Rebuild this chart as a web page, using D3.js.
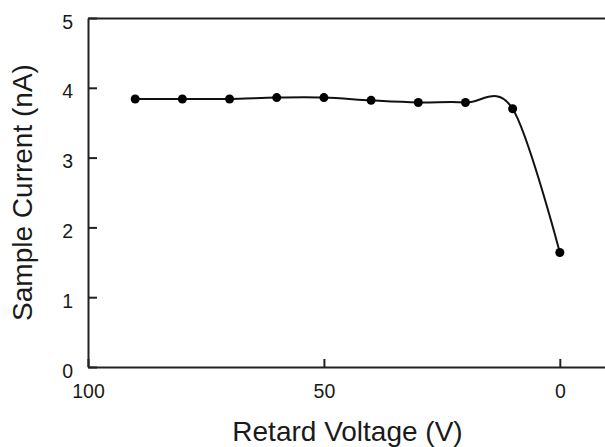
<!DOCTYPE html>
<html>
<head>
<meta charset="utf-8">
<script src="https://cdn.jsdelivr.net/npm/d3@7"></script>
<style>
  body { margin: 0; background: #fff; }
  text { font-family: "Liberation Sans", Arial, sans-serif; fill: #1a1a1a; }
</style>
</head>
<body>
<div id="chart"></div>
<script>
const voltage = [90, 80, 70, 60, 50, 40, 30, 20, 10, 0];
const current = [3.84, 3.84, 3.84, 3.86, 3.86, 3.82, 3.79, 3.79, 3.70, 1.64];
const xTicks = [100, 50, 0];
const yTicks = [0, 1, 2, 3, 4, 5];

const width = 605, height = 447;
const margin = { top: 18, right: -2, bottom: 80, left: 88 };

const x = d3.scaleLinear()
    .domain([100, -10])
    .range([margin.left, width - margin.right]);

const y = d3.scaleLinear()
    .domain([0, 5])
    .range([height - margin.bottom, margin.top]);

const svg = d3.select("#chart")
    .append("svg")
    .attr("width", width)
    .attr("height", height);

// axes (ticks point inwards)
const gx = svg.append("g")
    .attr("transform", "translate(0," + y(0) + ")")
    .call(d3.axisBottom(x).tickValues(xTicks).tickFormat(d3.format("d"))
        .tickSize(-8).tickSizeOuter(0).tickPadding(17));

const gy = svg.append("g")
    .attr("transform", "translate(" + x(100) + ",0)")
    .call(d3.axisLeft(y).tickValues(yTicks).tickFormat(d3.format("d"))
        .tickSize(-9).tickSizeOuter(0).tickPadding(15));

const gt = svg.append("g")
    .attr("transform", "translate(0," + y(5) + ")")
    .call(d3.axisTop(x).tickValues([]).tickSizeOuter(0));

svg.selectAll(".domain, .tick line")
    .attr("stroke", "#222")
    .attr("stroke-width", 2);

svg.selectAll(".tick text")
    .attr("font-size", 19.5)
    .style("font-family", "'Liberation Sans', Arial, sans-serif")
    .attr("fill", "#1a1a1a");

gy.selectAll(".tick text").attr("dy", "0.52em");

// fitted curve
const pts = voltage.map((v, i) => [v, current[i]]);

svg.append("path")
    .datum(pts)
    .attr("fill", "none")
    .attr("stroke", "#111")
    .attr("stroke-width", 2)
    .attr("d", d3.line()
        .x(d => x(d[0]))
        .y(d => y(d[1]))
        .curve(d3.curveCardinal.tension(0)));

svg.selectAll(".dot")
    .data(pts)
    .enter()
    .append("circle")
    .attr("class", "dot")
    .attr("cx", d => x(d[0]))
    .attr("cy", d => y(d[1]))
    .attr("r", 4.5)
    .attr("fill", "#000");

// titles
svg.append("text")
    .attr("x", (x(100) + x(-10)) / 2)
    .attr("y", 441)
    .attr("text-anchor", "middle")
    .attr("font-size", 28)
    .text("Retard Voltage (V)");

svg.append("text")
    .attr("transform", "translate(32," + (y(0) + y(5)) / 2 + ") rotate(-90)")
    .attr("text-anchor", "middle")
    .attr("font-size", 28)
    .text("Sample Current (nA)");
</script>
</body>
</html>
